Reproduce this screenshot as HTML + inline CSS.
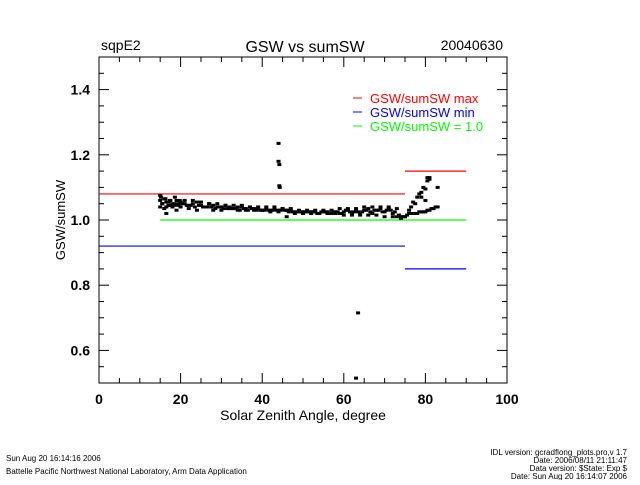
<!DOCTYPE html>
<html><head><meta charset="utf-8"><style>
body{margin:0;background:#fff;width:640px;height:480px;overflow:hidden}
svg text{font-family:"Liberation Sans",sans-serif}
</style></head><body>
<svg id="c" width="640" height="480" xmlns="http://www.w3.org/2000/svg">
<text x="101" y="50" font-size="14">sqpE2</text>
<text x="305" y="52" font-size="16" text-anchor="middle">GSW vs sumSW</text>
<text x="503" y="50" font-size="14" text-anchor="end">20040630</text>
<text x="303" y="420" font-size="14" text-anchor="middle">Solar Zenith Angle, degree</text>
<text transform="translate(65,220) rotate(-90)" font-size="13" text-anchor="middle">GSW/sumSW</text>
<g font-size="8">
<text x="6" y="461">Sun Aug 20 16:14:16 2006</text>
<text x="6" y="474">Battelle Pacific Northwest National Laboratory, Arm Data Application</text>
<text x="627" y="455" text-anchor="end">IDL version: gcradflong_plots.pro,v 1.7</text>
<text x="627" y="463" text-anchor="end">Date: 2006/08/11 21:11:47</text>
<text x="627" y="471" text-anchor="end">Data version: $State: Exp $</text>
<text x="627" y="479" text-anchor="end">Date: Sun Aug 20 16:14:07 2006</text>
</g>
<g id="axes"></g><g id="lines"></g><g id="pts"></g>
<g font-size="13">
<line x1="353" y1="98" x2="362" y2="98" stroke="#f00"/><text x="370" y="103" fill="#f00">GSW/sumSW  max</text>
<line x1="353" y1="112" x2="362" y2="112" stroke="#00f"/><text x="370" y="117" fill="#00f">GSW/sumSW  min</text>
<line x1="353" y1="126" x2="362" y2="126" stroke="#0f0"/><text x="370" y="131" fill="#0f0">GSW/sumSW  =  1.0</text>
</g>
</svg>
<script>
const xTicks=[0,20,40,60,80,100];
const yTicks=[0.6,0.8,1.0,1.2,1.4];
const yTickLabels=["0.6","0.8","1.0","1.2","1.4"];
const refX1=[0,75], refMax1=1.08, refMin1=0.92, refOne1=[15,75];
const refX2=[75,90], refMax2=1.15, refMin2=0.85, refOne2=1.0;
const ptX=[15,15.5,16,16.5,17,17.5,18,18.5,19,19.5,20,21,22,23,24,25,26,27,28,29,30,31,32,33,34,35,36,37,38,39,40,41,42,43,44,45,46,47,48,49,50,51,52,53,54,55,56,57,58,59,60,61,62,63,64,65,66,67,68,69,70,71,72,73,74,75,
15,16,17,18,19,20,22,24,26,28,30,32,34,36,38,40,42,44,46,48,50,52,54,56,58,60,62,64,66,68,70,72,74,
15.2,16.3,17.4,18.6,19.8,21,23,25,27,29,31,33,35,37,39,41,43,45,47,49,51,53,55,57,59,61,63,65,67,69,71,73,
15.5,16.5,17.5,18.5,19.5,20.5,21.5,22.5,23.5,24.5,25.5,26.5,27.5,28.5,29.5,30.5,31.5,32.5,33.5,34.5,35.5,36.5,37.5,38.5,39.5,40.5,41.5,42.5,43.5,44.5,45.5,46.5,47.5,48.5,49.5,50.5,51.5,52.5,53.5,54.5,55.5,56.5,57.5,58.5,59.5,60.5,61.5,62.5,63.5,64.5,65.5,66.5,67.5,68.5,69.5,70.5,71.5,72.5,73.5,74.5,
75.5,76,76.5,77,77.5,78,78.5,79,79.5,80,80.5,81,81.5,82,82.5,83,
76,76.5,77,77.5,78,78.5,79,79.5,80,80.5,81,
79,80,80.5,81,83,
44,44,44.2,44.3,44.2,46,63.5,63,15,16.5];
const ptY=[1.06,1.05,1.065,1.04,1.055,1.06,1.05,1.045,1.06,1.05,1.055,1.05,1.045,1.05,1.055,1.045,1.04,1.05,1.045,1.04,1.04,1.045,1.04,1.035,1.04,1.04,1.035,1.04,1.035,1.035,1.03,1.035,1.03,1.035,1.03,1.035,1.03,1.03,1.025,1.025,1.025,1.025,1.025,1.025,1.02,1.025,1.025,1.02,1.025,1.02,1.025,1.03,1.02,1.03,1.02,1.03,1.035,1.02,1.03,1.035,1.025,1.035,1.02,1.01,1.01,1.01,
1.04,1.035,1.045,1.04,1.03,1.04,1.035,1.03,1.04,1.03,1.03,1.035,1.03,1.03,1.03,1.03,1.025,1.025,1.03,1.02,1.02,1.02,1.02,1.02,1.02,1.015,1.015,1.015,1.015,1.015,1.01,1.01,1.005,
1.07,1.065,1.06,1.07,1.06,1.06,1.06,1.055,1.05,1.05,1.045,1.045,1.045,1.04,1.04,1.04,1.04,1.035,1.035,1.03,1.03,1.03,1.03,1.03,1.035,1.035,1.035,1.04,1.04,1.04,1.04,1.035,
1.05,1.055,1.045,1.05,1.045,1.05,1.045,1.045,1.04,1.045,1.04,1.04,1.04,1.035,1.04,1.035,1.035,1.035,1.035,1.03,1.035,1.03,1.035,1.03,1.03,1.03,1.03,1.03,1.03,1.03,1.03,1.025,1.025,1.025,1.025,1.025,1.025,1.025,1.02,1.025,1.025,1.02,1.025,1.025,1.02,1.03,1.025,1.025,1.025,1.025,1.03,1.025,1.03,1.03,1.025,1.03,1.03,1.025,1.015,1.01,
1.015,1.02,1.02,1.02,1.02,1.02,1.025,1.025,1.025,1.025,1.03,1.03,1.035,1.035,1.04,1.04,
1.03,1.04,1.055,1.05,1.07,1.08,1.085,1.1,1.095,1.12,1.125,
1.07,1.06,1.13,1.13,1.1,
1.235,1.18,1.17,1.1,1.105,1.01,0.715,0.515,1.075,1.02];
const NS="http://www.w3.org/2000/svg";
const L=99,R=507,T=57,B=383,XMIN=0,XMAX=100,YMIN=0.5,YMAX=1.5;
function sx(v){return L+(v-XMIN)/(XMAX-XMIN)*(R-L);}
function sy(v){return B-(v-YMIN)/(YMAX-YMIN)*(B-T);}
function mk(tag,a,p){const e=document.createElementNS(NS,tag);for(const k in a)e.setAttribute(k,a[k]);p.appendChild(e);return e;}
const ax=document.getElementById('axes');
const box=mk('rect',{x:L,y:T,width:R-L,height:B-T,fill:'none',stroke:'#000'},ax);


for(let v=0;v<=100;v+=5){const len=v%20===0?10:5;const x=sx(v);
 mk('line',{x1:x,y1:B,x2:x,y2:B-len,stroke:'#000'},ax);mk('line',{x1:x,y1:T,x2:x,y2:T+len,stroke:'#000'},ax);}
for(let i=0;i<=20;i++){const v=0.5+i*0.05;const m=Math.round(v*100)%20===0;const len=m?10:5;const y=sy(v);
 mk('line',{x1:L,y1:y,x2:L+len,y2:y,stroke:'#000'},ax);mk('line',{x1:R,y1:y,x2:R-len,y2:y,stroke:'#000'},ax);}
xTicks.forEach(v=>{const t=mk('text',{x:sx(v),y:B+21,'font-size':14,'text-anchor':'middle','font-weight':'bold'},ax);t.textContent=v;
 
 });
yTicks.forEach((v,i)=>{const t=mk('text',{x:L-9,y:sy(v)+5,'font-size':14,'text-anchor':'end','font-weight':'bold'},ax);t.textContent=yTickLabels[i];
 
 });
const ln=document.getElementById('lines');
function hl(x1,x2,y,c,n){const e=mk('line',{x1:sx(x1),x2:sx(x2),y1:sy(y),y2:sy(y),stroke:c,'stroke-width':1.2},ln);
 
 }
hl(refX1[0],refX1[1],refMax1,'#f00','max-line-1');
hl(refX1[0],refX1[1],refMin1,'#00f','min-line-1');
hl(refOne1[0],refOne1[1],1.0,'#0f0','unity-line-1');
hl(refX2[0],refX2[1],refMax2,'#f00','max-line-2');
hl(refX2[0],refX2[1],refMin2,'#00f','min-line-2');
hl(refX2[0],refX2[1],refOne2,'#0f0','unity-line-2');
const pg=document.getElementById('pts');
for(let i=0;i<ptX.length;i++){const x=sx(ptX[i]),y=sy(ptY[i]);
 const r=mk('rect',{x:x-2,y:y-1.5,width:4,height:3,fill:'#000'},pg);
 
 }
</script>
</body></html>
